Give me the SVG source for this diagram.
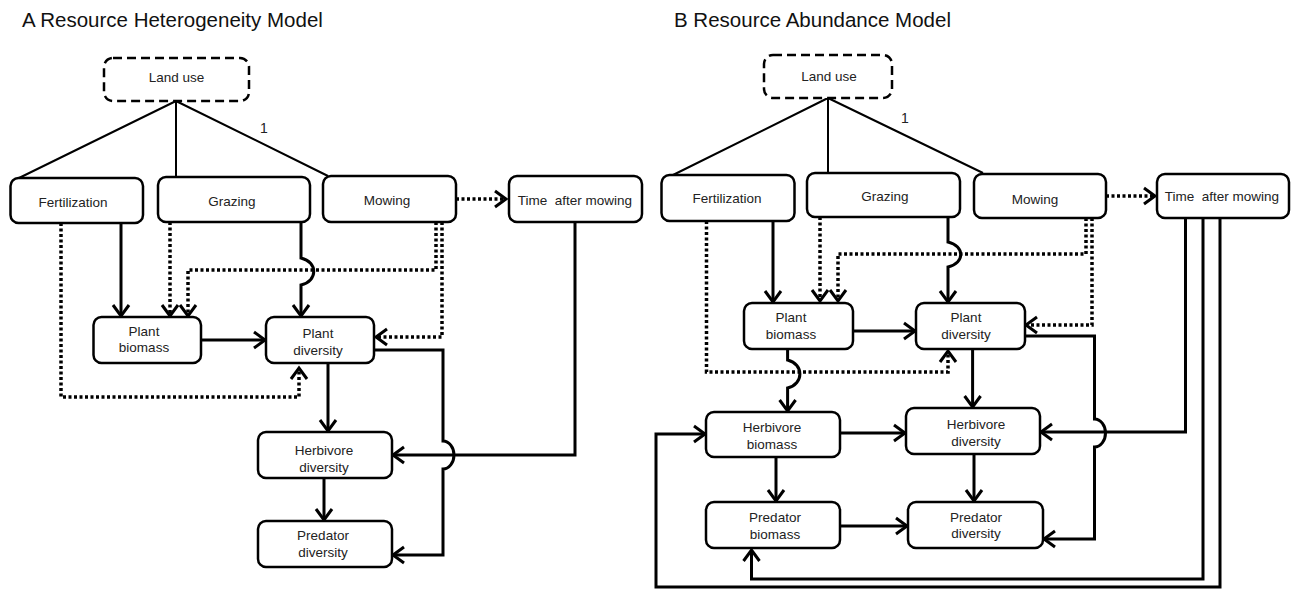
<svg xmlns="http://www.w3.org/2000/svg" width="1292" height="590" viewBox="0 0 1292 590">
<style>
.box{fill:#fff;stroke:#000;stroke-width:2.5}
.lu{fill:#fff;stroke:#000;stroke-width:2.5;stroke-dasharray:9 5}
.ln{fill:none;stroke:#000;stroke-width:2}
.sol{fill:none;stroke:#000;stroke-width:3;marker-end:url(#ah)}
.dot{fill:none;stroke:#000;stroke-width:3.5;stroke-dasharray:3 2.5;marker-end:url(#ah)}
text{font-family:"Liberation Sans",Arial,sans-serif;font-size:13.5px;fill:#222;text-anchor:middle;white-space:pre}
.title{font-size:20.5px;text-anchor:start;fill:#111}
</style>
<defs>
<marker id="ah" viewBox="-14 -10 18 20" refX="0" refY="0" markerWidth="18" markerHeight="20" orient="auto" markerUnits="userSpaceOnUse">
<path d="M-11,-8 L0,0 L-11,8" fill="none" stroke="#000" stroke-width="3"/>
</marker>
</defs>
<rect width="1292" height="590" fill="#fff"/>
<text class="title" x="22" y="27">A Resource Heterogeneity Model</text>
<text class="title" x="674" y="27">B Resource Abundance Model</text>

<g id="connectors">
<!-- Panel A -->
<path class="ln" d="M176,101 L19,178 M176,101 L176,178 M176,101 L328,176"/>
<path class="dot" d="M456,199 L506,199"/>
<path class="sol" d="M121,223 L121,316"/>
<path class="dot" d="M61,223 L61,397 L299,397 L299,368"/>
<path class="dot" d="M170,222 L170,316"/>
<path class="dot" d="M436,222 L436,270 L188,270 L188,316"/>
<path class="dot" d="M442,222 L442,337 L376,337"/>
<path class="sol" d="M301,222 L301,258 C318,262 318,281 301,285 L301,316"/>
<path class="sol" d="M201,340 L265,340"/>
<path class="sol" d="M328,363 L328,431"/>
<path class="sol" d="M324,478 L324,520"/>
<path class="sol" d="M374,350 L443,350 L443,441 A11,14 0 0 1 443,469 L443,555 L393,555"/>
<path class="sol" d="M575,222 L575,455 L393,455"/>
<!-- Panel B -->
<path class="ln" d="M828,98 L673,175 M828,98 L828,173 M828,98 L983,173"/>
<path class="dot" d="M1106,196 L1155,196"/>
<path class="sol" d="M773,221 L773,302"/>
<path class="dot" d="M706.5,221 L706.5,372 L948,372 L948,351"/>
<path class="dot" d="M820,217 L820,301"/>
<path class="dot" d="M1086,218 L1086,254 L838,254 L838,301"/>
<path class="dot" d="M1092,218 L1092,325 L1026,325"/>
<path class="sol" d="M948,217 L948,242 C965,246 965,263 948,267 L948,302"/>
<path class="sol" d="M853,331 L915,331"/>
<path class="sol" d="M972.6,349 L972.6,407"/>
<path class="sol" d="M787.6,349 L787.6,360 C804,364 804,384 787.6,388 L787.6,411"/>
<path class="sol" d="M840,433 L905,433"/>
<path class="sol" d="M776,457 L776,501"/>
<path class="sol" d="M974,454 L974,501"/>
<path class="sol" d="M840,526 L907,526"/>
<path class="sol" d="M1025,336 L1094.5,336 L1094.5,419 A11,14 0 0 1 1094.5,447 L1094.5,539 L1044,539"/>
<path class="sol" d="M1185.5,218 L1185.5,432 L1041,432"/>
<path class="sol" d="M1203,218 L1203,579 L751.5,579 L751.5,550"/>
<path class="sol" d="M1220,218 L1220,587 L656,587 L656,434 L705,434"/>
</g>

<text x="264" y="133" style="font-size:14px">1</text>
<text x="905" y="123" style="font-size:14px">1</text>

<!-- Panel A nodes -->
<g id="landuseA"><rect class="lu" x="104" y="58" width="145" height="43" rx="9"/><text x="176.5" y="82">Land use</text></g>
<g id="fertA"><rect class="box" x="10.5" y="178" width="132.5" height="45" rx="8"/><text x="73" y="207">Fertilization</text></g>
<g id="grazA"><rect class="box" x="158" y="177" width="152" height="45" rx="8"/><text x="232" y="206">Grazing</text></g>
<g id="mowA"><rect class="box" x="323" y="176" width="133" height="46" rx="8"/><text x="387" y="205">Mowing</text></g>
<g id="timeA"><rect class="box" x="509" y="176" width="133" height="46" rx="8"/><text x="575" y="205">Time  after mowing</text></g>
<g id="pbA"><rect class="box" x="93.5" y="317" width="107.5" height="46" rx="8"/><text x="144" y="336">Plant</text><text x="144" y="352">biomass</text></g>
<g id="pdA"><rect class="box" x="266" y="317" width="108" height="46" rx="8"/><text x="318" y="338">Plant</text><text x="318" y="355">diversity</text></g>
<g id="hdA"><rect class="box" x="258" y="432" width="134" height="46" rx="8"/><text x="324" y="455">Herbivore</text><text x="324" y="472">diversity</text></g>
<g id="predA"><rect class="box" x="258" y="521" width="134" height="46" rx="8"/><text x="323" y="540">Predator</text><text x="323" y="557">diversity</text></g>

<!-- Panel B nodes -->
<g id="landuseB"><rect class="lu" x="764" y="55" width="128" height="43" rx="9"/><text x="829" y="81">Land use</text></g>
<g id="fertB"><rect class="box" x="661.5" y="175" width="133" height="46" rx="8"/><text x="727" y="203">Fertilization</text></g>
<g id="grazB"><rect class="box" x="807" y="173" width="153" height="44" rx="8"/><text x="885" y="201">Grazing</text></g>
<g id="mowB"><rect class="box" x="974" y="174" width="132" height="44" rx="8"/><text x="1035" y="204">Mowing</text></g>
<g id="timeB"><rect class="box" x="1157" y="174" width="132" height="44" rx="8"/><text x="1222" y="201">Time  after mowing</text></g>
<g id="pbB"><rect class="box" x="744" y="303" width="109" height="46" rx="8"/><text x="791" y="322">Plant</text><text x="791" y="339">biomass</text></g>
<g id="pdB"><rect class="box" x="916" y="303" width="109" height="46" rx="8"/><text x="966" y="322">Plant</text><text x="966" y="339">diversity</text></g>
<g id="hbB"><rect class="box" x="706" y="412" width="134" height="45" rx="8"/><text x="772" y="432">Herbivore</text><text x="772" y="449">biomass</text></g>
<g id="hdB"><rect class="box" x="906" y="408" width="134" height="46" rx="8"/><text x="976" y="429">Herbivore</text><text x="976" y="446">diversity</text></g>
<g id="pbioB"><rect class="box" x="706" y="502" width="134" height="46" rx="8"/><text x="775" y="522">Predator</text><text x="775" y="539">biomass</text></g>
<g id="pdivB"><rect class="box" x="908" y="502" width="135" height="46" rx="8"/><text x="976" y="522">Predator</text><text x="976" y="538">diversity</text></g>
</svg>
